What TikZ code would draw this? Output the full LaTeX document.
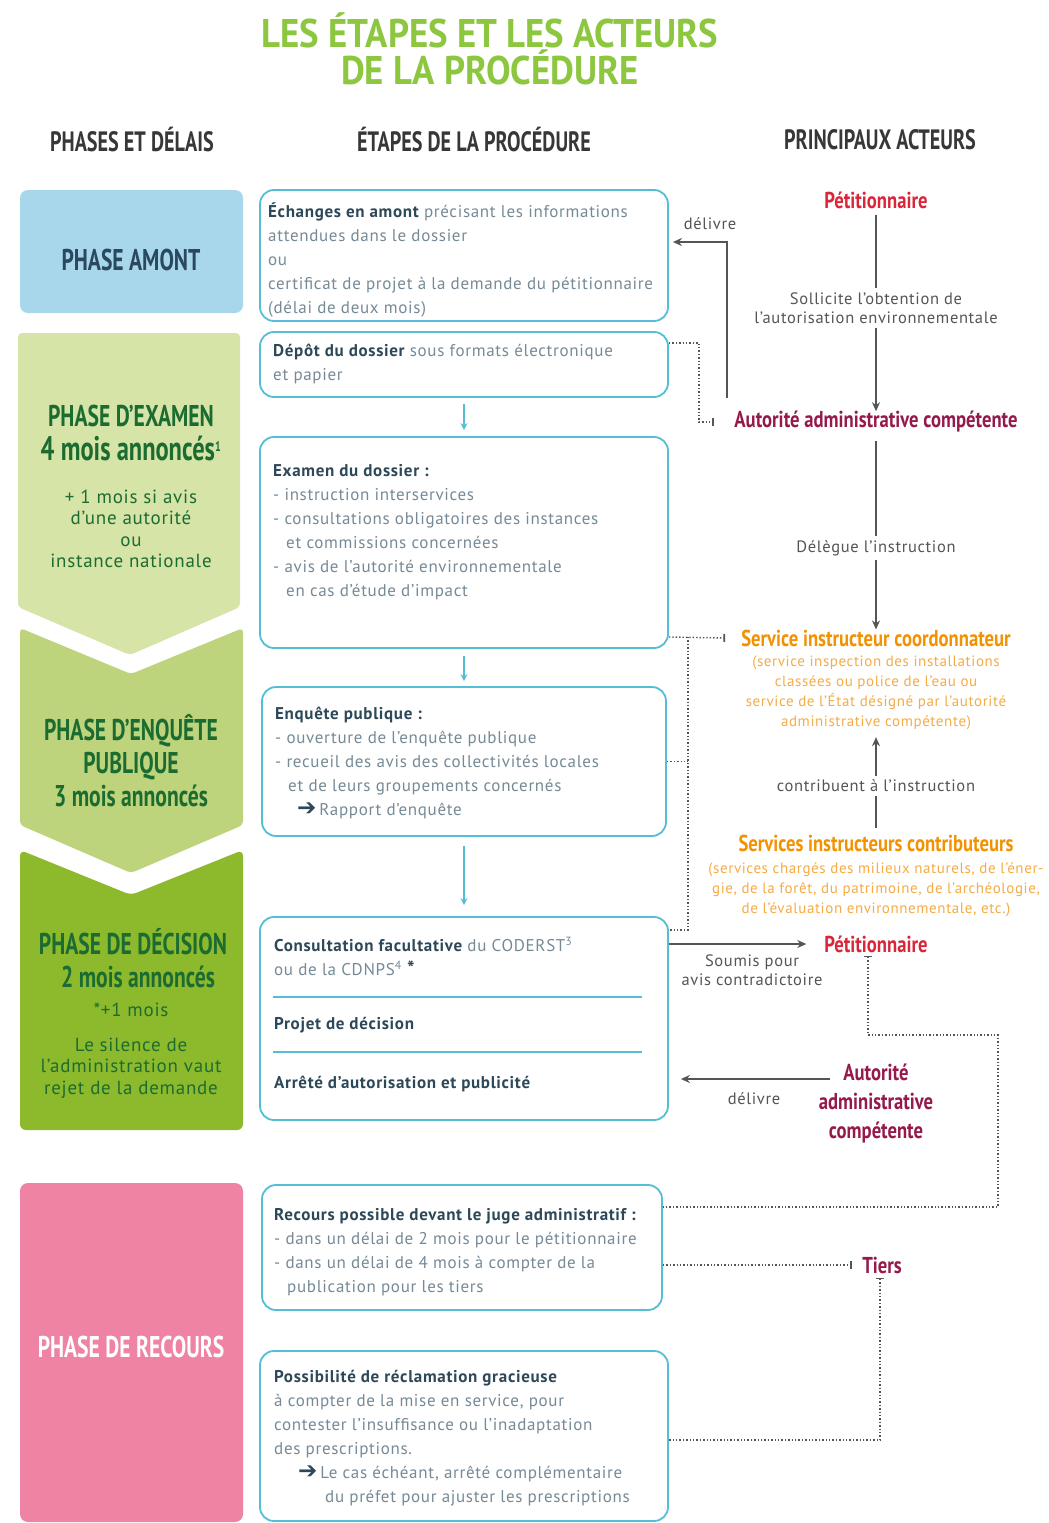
\documentclass[tikz,border=0pt]{standalone}
\usepackage{fontspec}
\setmainfont[LetterSpace=4]{PT Sans}
\newfontfamily\cond[FakeStretch=0.72]{PT Sans}
\newfontfamily\condb[FakeStretch=0.81]{PT Sans}
\newfontfamily\condt[FakeStretch=0.92]{PT Sans}
\newfontfamily\arrowf{DejaVu Sans}
\usetikzlibrary{arrows.meta,calc}
\definecolor{cyanc}{RGB}{84,190,214}
\definecolor{boldc}{RGB}{45,72,88}
\definecolor{grayt}{RGB}{118,138,150}
\definecolor{darkg}{RGB}{85,85,85}
\definecolor{lblue}{RGB}{168,215,236}
\definecolor{pgreen}{RGB}{214,228,168}
\definecolor{mgreen}{RGB}{190,212,124}
\definecolor{sgreen}{RGB}{141,186,44}
\definecolor{dgreen}{RGB}{28,108,50}
\definecolor{pinkc}{RGB}{238,131,164}
\definecolor{titleg}{RGB}{141,198,63}
\definecolor{redc}{RGB}{218,38,58}
\definecolor{maroon}{RGB}{150,25,75}
\definecolor{orangec}{RGB}{243,146,0}
\definecolor{lorange}{RGB}{245,172,70}
\definecolor{headc}{RGB}{55,55,55}
\definecolor{bluet}{RGB}{42,72,94}
\newcommand\bx[1]{\textcolor{boldc}{\bfseries #1}}
\newcommand\ind{\hspace*{13pt}}
\newcommand\bigarrow{\textcolor{boldc}{\arrowf\fontsize{23}{24}\selectfont ➔}}
\begin{document}
\begin{tikzpicture}[x=1pt,y=-1pt,
  box/.style={draw=cyanc, line width=1.8pt, rounded corners=14pt, fill=white},
  txt/.style={anchor=north west, inner sep=0pt, align=left, text=grayt,
    font=\fontsize{17}{24}\selectfont},
  flow/.style={draw=cyanc, line width=1.3pt, -{Stealth[length=7pt,width=7pt]}},
  conn/.style={draw=darkg, line width=1.5pt},
  arr/.style={conn, -{Stealth[length=9pt,width=8pt]}},
  dots/.style={draw=darkg, line width=1.4pt, dotted},
  head/.style={text=headc, font=\cond\bfseries\fontsize{28}{30}\selectfont},
  ptitle/.style={font=\cond\bfseries\fontsize{30}{33}\selectfont, align=center},
  psub/.style={font=\fontsize{19}{21.5}\selectfont, align=center, text=dgreen},
  actor/.style={font=\condb\bfseries\fontsize{23}{29}\selectfont, align=center, inner sep=2pt},
  lab/.style={font=\fontsize{16.5}{19.5}\selectfont, text=darkg, align=center, inner sep=2pt},
  sub/.style={font=\fontsize{15}{20}\selectfont, text=lorange, align=center, inner sep=1pt}
]
\useasboundingbox (0,0) rectangle (1049,1523);
\fill[white] (0,0) rectangle (1049,1523);

% title and headers
\node[font=\condt\bfseries\fontsize{40}{37}\selectfont, text=titleg, align=center] (title) at (490,49) {LES ÉTAPES ET LES ACTEURS\\DE LA PROCÉDURE};
\node[head] (h1) at (132,140) {PHASES ET DÉLAIS};
\node[head] (h2) at (474,140) {ÉTAPES DE LA PROCÉDURE};
\node[head] (h3) at (880,140) {PRINCIPAUX ACTEURS};

% left phases
\fill[lblue, rounded corners=8pt] (20,190) -- (243,190) -- (243,313) -- (20,313) -- cycle;
\node[ptitle, text=bluet] (ph1) at (131,260) {PHASE AMONT};
\fill[pgreen, rounded corners=4pt] (18,333) -- (240,333) -- (240,607) -- (130,655) -- (18,607) -- cycle;
\node[ptitle, text=dgreen, font=\cond\bfseries\fontsize{30}{34}\selectfont] (ph2) at (131,433) {PHASE D’EXAMEN\\{\fontsize{34}{34}\selectfont 4 mois annoncés\textsuperscript{\fontsize{14}{14}\selectfont 1}}};
\node[psub] (ph2s) at (131,529) {+ 1 mois si avis\\d’une autorité\\ou\\instance nationale};
\fill[mgreen, rounded corners=4pt] (20,628) -- (131,674) -- (243,628) -- (243,825) -- (131,873) -- (20,825) -- cycle;
\node[ptitle, text=dgreen] (ph3) at (131,761) {PHASE D’ENQUÊTE\\PUBLIQUE\\3 mois annoncés};
\fill[sgreen, rounded corners=6pt] (20,850) -- (131,895) -- (243,850) -- (243,1130) -- (20,1130) -- cycle;
\node[ptitle, text=dgreen] (ph4) at (133,958) {PHASE DE DÉCISION\\\hspace*{10pt}2 mois annoncés};
\node[psub] (ph4a) at (131,1010) {*+1 mois};
\node[psub] (ph4s) at (131,1068) {Le silence de\\l’administration vaut\\rejet de la demande};
\fill[pinkc, rounded corners=8pt] (20,1183) -- (243,1183) -- (243,1522) -- (20,1522) -- cycle;
\node[ptitle, text=white] (ph5) at (131,1347) {PHASE DE RECOURS};

% middle boxes
\node[box, minimum width=408pt, minimum height=131pt] (b1) at (464,255.5) {};
\node[box, minimum width=408pt, minimum height=65pt] (b2) at (464,364.5) {};
\node[box, minimum width=408pt, minimum height=211pt] (b3) at (464,542.5) {};
\node[box, minimum width=404pt, minimum height=149pt] (b4) at (464,761.5) {};
\node[box, minimum width=408pt, minimum height=203pt] (b5) at (464,1018.5) {};
\node[box, minimum width=400pt, minimum height=125pt] (b6) at (462,1247.5) {};
\node[box, minimum width=408pt, minimum height=170pt] (b7) at (464,1436) {};
\draw[cyanc, line width=1.8pt] (273,997) -- (642,997) (273,1052) -- (642,1052);

\node[txt] (t1) at (268,203) {\bx{Échanges en amont} précisant les informations\\attendues dans le dossier\\ou\\certificat de projet à la demande du pétitionnaire\\(délai de deux mois)};
\node[txt] (t2) at (273,344) {\bx{Dépôt du dossier} sous formats électronique\\et papier};
\node[txt] (t3) at (273,464) {\bx{Examen du dossier :}\\- instruction interservices\\- consultations obligatoires des instances\\\ind et commissions concernées\\- avis de l’autorité environnementale\\\ind en cas d’étude d’impact};
\node[txt] (t4) at (275,707) {\bx{Enquête publique :}\\- ouverture de l’enquête publique\\- recueil des avis des collectivités locales\\\ind et de leurs groupements concernés\\\hspace*{22pt}\bigarrow\,Rapport d’enquête};
\node[txt] (t5a) at (274,937) {\bx{Consultation facultative} du CODERST\textsuperscript{3}\\ou de la CDNPS\textsuperscript{4} \textcolor{boldc}{\bfseries\fontsize{20}{24}\selectfont *}};
\node[txt] (t5b) at (274,1017) {\bx{Projet de décision}};
\node[txt] (t5c) at (274,1076) {\bx{Arrêté d’autorisation et publicité}};
\node[txt] (t6) at (274,1208) {\bx{Recours possible devant le juge administratif :}\\- dans un délai de 2 mois pour le pétitionnaire\\- dans un délai de 4 mois à compter de la\\\ind publication pour les tiers};
\node[txt] (t7) at (274,1370) {\bx{Possibilité de réclamation gracieuse}\\à compter de la mise en service, pour\\contester l’insuffisance ou l’inadaptation\\des prescriptions.\\\hspace*{24pt}\bigarrow\,Le cas échéant, arrêté complémentaire\\\hspace*{51pt}du préfet pour ajuster les prescriptions};

\draw[flow] ([yshift=-6pt]b2.south) -- ([yshift=6pt]b3.north);
\draw[flow] ([yshift=-7pt]b3.south) -- ([yshift=5pt]b4.north);
\draw[flow] ([yshift=-9pt]b4.south) -- ([yshift=11pt]b5.north);

% right column actors
\node[actor, text=redc] (p1) at (876,200) {Pétitionnaire};
\node[lab] (s1) at (876,308) {Sollicite l’obtention de\\l’autorisation environnementale};
\node[actor, text=maroon] (a1) at (876,422) {Autorité administrative compétente};
\node[lab] (dl) at (876,548) {Délègue l’instruction};
\node[actor, text=orangec] (sc) at (876,638) {Service instructeur coordonnateur};
\node[sub] (scd) at (876,693) {(service inspection des installations\\classées ou police de l’eau ou\\service de l’État désigné par l’autorité\\administrative compétente)};
\node[lab] (ct) at (876,786) {contribuent à l’instruction};
\node[actor, text=orangec] (sv) at (876,843) {Services instructeurs contributeurs};
\node[sub] (svd) at (876,890) {(services chargés des milieux naturels, de l’éner-\\gie, de la forêt, du patrimoine, de l’archéologie,\\de l’évaluation environnementale, etc.)};
\node[actor, text=redc] (p2) at (876,944) {Pétitionnaire};
\node[lab] (sp) at (752,970) {Soumis pour\\avis contradictoire};
\node[actor, text=maroon] (a2) at (876,1104) {Autorité\\administrative\\compétente};
\node[lab] (dv2) at (754,1099) {délivre};
\node[actor, text=maroon] (ti) at (882,1265) {Tiers};
\node[lab] (dv1) at (710,224) {délivre};

\draw[conn] ([yshift=-4pt]p1.south) -- ([yshift=2pt]s1.north);
\draw[arr] ([yshift=-2pt]s1.south) -- ([yshift=-2pt]a1.north);
\coordinate (d1) at (727,398);
\draw[arr] (d1) |- ([xshift=4pt,yshift=13.5pt]b1.east);
\draw[dots,-{Bar[width=8pt,line width=1.8pt]}] ([yshift=21.5pt]b2.east) -- ++(30,0) |- ([xshift=-18pt]a1.west);
\draw[conn] ([yshift=-6pt]a1.south) -- ([yshift=2pt]dl.north);
\draw[arr] ([yshift=-2pt]dl.south) -- ([yshift=-2pt]sc.north);
\draw[dots,-{Bar[width=8pt,line width=1.8pt]}] ([yshift=-94.5pt]b3.east) -- ([xshift=-14pt]sc.west);
\coordinate (j1) at (688,637);
\draw[dots] (j1) |- ([yshift=88.5pt]b5.east);
\draw[dots] (b4.east) -- (j1 |- b4.east);
\draw[arr] ([yshift=2pt]ct.north) -- ([yshift=-6pt]scd.south);
\draw[conn] ([yshift=-2pt]ct.south) -- ([yshift=4pt]sv.north);
\draw[arr] (b5.east |- p2.west) -- ([xshift=-16pt]p2.west);
\coordinate (k1) at (998,1035);
\draw[dots,{Bar[width=8pt,line width=1.8pt]}-] ([xshift=-8pt,yshift=-1pt]p2.south) |- (k1) |- ([yshift=40.5pt]b6.east);
\coordinate (da) at (830,1079);
\draw[arr, shorten >=12pt] (da) -- (b5.east |- da);
\draw[dots,-{Bar[width=8pt,line width=1.8pt]}] (b6.east |- ti.west) -- ([xshift=-8pt]ti.west);
\draw[dots,{Bar[width=8pt,line width=1.8pt]}-] ([xshift=-2pt,yshift=-2pt]ti.south) |- ([yshift=-4pt]b7.east);
\end{tikzpicture}
\end{document}
